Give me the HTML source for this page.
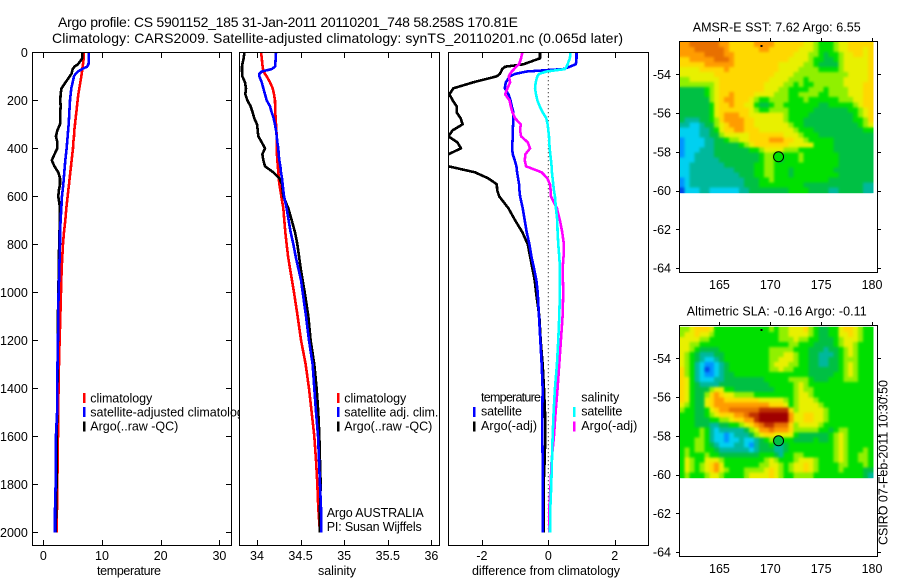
<!DOCTYPE html>
<html lang="en">
<head>
<meta charset="utf-8">
<title>Argo profile 5901152_185</title>
<style>
html,body{margin:0;padding:0;background:#fff;}
svg{display:block;}
text{font-family:"Liberation Sans",Arial,sans-serif;font-size:12.5px;fill:#000;}
.title{font-size:14px;}
.frame{fill:none;stroke:#000;stroke-width:1;shape-rendering:crispEdges;}
</style>
</head>
<body>
<svg id="chart" xmlns="http://www.w3.org/2000/svg" width="900" height="580" viewBox="0 0 900 580">
<defs>
<clipPath id="clip-t"><rect x="32" y="52" width="200" height="494"/></clipPath>
<clipPath id="clip-s"><rect x="239" y="52" width="201" height="494"/></clipPath>
<clipPath id="clip-d"><rect x="448" y="52" width="201" height="494"/></clipPath>
<filter id="smooth" x="0" y="0" width="1" height="1" color-interpolation-filters="sRGB"><feGaussianBlur stdDeviation="1.2"/></filter>
</defs>
<rect x="0" y="0" width="900" height="580" fill="#fff"/>
<text class="title" x="58" y="27" textLength="460" lengthAdjust="spacing">Argo profile: CS 5901152_185 31-Jan-2011 20110201_748 58.258S 170.81E</text>
<text class="title" x="52" y="43" textLength="571" lengthAdjust="spacing">Climatology: CARS2009. Satellite-adjusted climatology: synTS_20110201.nc (0.065d later)</text>

<g id="temperature-panel">
<g id="p1-marks" clip-path="url(#clip-t)"></g>
<g id="p1-ticks"></g>
<rect class="frame" x="32.5" y="52.5" width="199" height="493"/>
<text x="129" y="575" text-anchor="middle" textLength="64" lengthAdjust="spacing">temperature</text>
<g>
<rect x="83" y="393" width="2.5" height="10" fill="#f00"/>
<text x="90.3" y="402.3" textLength="62" lengthAdjust="spacing">climatology</text>
<rect x="83" y="407" width="2.5" height="10" fill="#00f"/>
<text x="90.3" y="416.3">satellite-adjusted climatology</text>
<rect x="83" y="421.5" width="2.5" height="10" fill="#000"/>
<text x="90.3" y="430.3" textLength="88" lengthAdjust="spacing">Argo(..raw -QC)</text>
</g>
</g>

<g id="salinity-panel">
<rect x="239" y="52" width="201" height="494" fill="#fff"/>
<g id="p2-marks" clip-path="url(#clip-s)"></g>
<g id="p2-ticks"></g>
<rect class="frame" x="239.5" y="52.5" width="200" height="493"/>
<text x="337" y="575" text-anchor="middle" textLength="38" lengthAdjust="spacing">salinity</text>
<g>
<rect x="337" y="393" width="2.5" height="10" fill="#f00"/>
<text x="344.3" y="402.3" textLength="62" lengthAdjust="spacing">climatology</text>
<rect x="337" y="407" width="2.5" height="10" fill="#00f"/>
<text x="344.3" y="416.3" textLength="94" lengthAdjust="spacing">satellite adj. clim.</text>
<rect x="337" y="421.5" width="2.5" height="10" fill="#000"/>
<text x="344.3" y="430.3" textLength="88" lengthAdjust="spacing">Argo(..raw -QC)</text>
</g>
<text x="326.7" y="517" textLength="97" lengthAdjust="spacing">Argo AUSTRALIA</text>
<text x="326.7" y="531" textLength="95" lengthAdjust="spacing">PI: Susan Wijffels</text>
</g>

<g id="difference-panel">
<rect x="448" y="52" width="201" height="494" fill="#fff"/>
<g id="p3-marks" clip-path="url(#clip-d)"></g>
<g id="p3-ticks"></g>
<rect class="frame" x="448.5" y="52.5" width="200" height="493"/>
<text x="546" y="575" text-anchor="middle" textLength="148" lengthAdjust="spacing">difference from climatology</text>
<g>
<text x="481" y="401.7" textLength="60" lengthAdjust="spacing">temperature</text>
<rect x="473" y="407" width="2.5" height="10" fill="#00f"/>
<text x="481" y="415.7" textLength="41" lengthAdjust="spacing">satellite</text>
<rect x="473" y="421.5" width="2.5" height="10" fill="#000"/>
<text x="481" y="430" textLength="56" lengthAdjust="spacing">Argo(-adj)</text>
<text x="581.3" y="401.7" textLength="38" lengthAdjust="spacing">salinity</text>
<rect x="573" y="407" width="2.5" height="10" fill="#0ff"/>
<text x="581.3" y="415.7" textLength="41" lengthAdjust="spacing">satellite</text>
<rect x="573" y="421.5" width="2.5" height="10" fill="#f0f"/>
<text x="581.3" y="430" textLength="56" lengthAdjust="spacing">Argo(-adj)</text>
</g>
</g>

<g id="sst-map">
<text x="692.7" y="31.7" textLength="168" lengthAdjust="spacing">AMSR-E SST: 7.62 Argo: 6.55</text>
<g id="m1-cells"></g>
<g id="m1-ticks"></g>
<rect class="frame" x="679.5" y="41.5" width="198" height="231"/>
</g>

<g id="sla-map">
<text x="686.7" y="315.7" textLength="180" lengthAdjust="spacing">Altimetric SLA: -0.16 Argo: -0.11</text>
<g id="m2-cells"></g>
<g id="m2-ticks"></g>
<rect class="frame" x="679.5" y="325.5" width="198" height="231"/>
</g>

<text transform="translate(887.5 545) rotate(-90)" textLength="165" lengthAdjust="spacing">CSIRO 07-Feb-2011 10:30:50</text>
</svg>

<script>
// ---- profile data ----
const depths = [0,25,50,60,70,80,90,100,
125,150,175,200,225,250,275,300,325,350,
375,400,425,450,475,500,525,550,575,600,
650,700,750,800,850,900,950,1000,
1100,1200,1300,1400,1500,1600,1700,1800,1900,2000];

const tempClim = [6.93,6.88,6.76,6.7,6.65,6.59,6.53,6.48,
6.31,6.14,5.97,5.85,5.74,5.63,5.51,5.4,5.28,5.23,
5.11,5.06,4.94,4.83,4.72,4.6,4.49,4.38,4.26,4.15,
3.92,3.75,3.52,3.35,3.24,3.13,3.07,3.01,
2.9,2.78,2.67,2.61,2.5,2.5,2.44,2.39,2.33,2.27];
const tempSat = [7.78,7.75,7.7,7.45,6.6,5.9,5.5,5.23,
5.0,4.77,4.66,4.55,4.49,4.43,4.38,4.32,4.23,4.15,
4.06,3.98,3.86,3.75,3.66,3.58,3.49,3.41,3.3,3.18,
3.07,2.95,2.84,2.84,2.78,2.73,2.68,2.6,
2.55,2.5,2.42,2.38,2.35,2.15,2.15,2.1,2.0,2.0];
const tempArgo = [6.65,6.65,5.9,5.3,5.0,4.9,4.8,4.5,
3.8,3.1,2.95,2.9,2.95,2.9,2.9,2.85,2.4,2.15,
2.4,2.4,1.9,1.45,1.9,2.55,2.85,2.85,2.65,2.55,
2.85,2.85,2.75,2.75,2.6,2.6,2.6,2.55,
2.5,2.5,2.45,2.4,2.35,2.3,2.27,2.25,2.2,2.1];

const salClim = [34.046,34.055,34.061,34.065,34.069,34.073,34.092,34.111,
34.149,34.18,34.195,34.206,34.208,34.21,34.214,34.218,34.222,34.226,
34.226,34.226,34.229,34.233,34.239,34.245,34.25,34.256,34.268,34.279,
34.302,34.313,34.325,34.34,34.356,34.378,34.401,34.424,
34.466,34.505,34.558,34.596,34.627,34.657,34.677,34.692,34.703,34.722];
const salSat = [34.218,34.214,34.21,34.206,34.168,34.054,34.027,34.027,
34.054,34.073,34.092,34.111,34.149,34.168,34.191,34.206,34.218,34.226,
34.233,34.245,34.248,34.256,34.268,34.275,34.287,34.294,34.302,34.31,
34.34,34.363,34.386,34.417,34.443,34.474,34.505,34.524,
34.562,34.596,34.638,34.657,34.677,34.7,34.711,34.722,34.734,34.738];
const salArgo = [33.855,33.847,33.832,33.828,33.828,33.828,33.832,33.832,
33.862,33.874,33.866,33.889,33.927,33.95,33.969,34.0,34.008,34.015,
34.054,34.092,34.061,34.073,34.092,34.187,34.256,34.287,34.294,34.302,
34.359,34.398,34.436,34.463,34.482,34.501,34.524,34.547,
34.589,34.615,34.657,34.684,34.703,34.715,34.722,34.73,34.722,34.722];

const diffTempSat = [0.85,0.85,0.83,0.65,0.45,-0.65,-1.0,-1.15,
-1.28,-1.31,-1.2,-1.14,-1.1,-1.05,-1.06,-1.06,-1.07,-1.07,
-1.08,-1.09,-1.07,-1.01,-0.96,-0.94,-0.91,-0.88,-0.87,-0.85,
-0.77,-0.71,-0.65,-0.57,-0.51,-0.43,-0.36,-0.32,
-0.28,-0.24,-0.2,-0.17,-0.18,-0.18,-0.17,-0.17,-0.17,-0.17];
const diffTempArgo = [-0.25,-0.25,-0.75,-1.3,-1.39,-1.42,-1.46,-1.55,
-2.26,-2.86,-2.98,-2.88,-2.76,-2.76,-2.64,-2.58,-2.88,-3.01,
-2.74,-2.63,-3.01,-3.2,-3.01,-2.21,-1.81,-1.55,-1.54,-1.48,
-1.2,-1.0,-0.78,-0.62,-0.55,-0.48,-0.41,-0.37,
-0.27,-0.23,-0.17,-0.13,-0.1,-0.09,-0.11,-0.14,-0.14,-0.14];
const diffSalSat = [0.67,0.65,0.58,0.55,0.5,-0.05,-0.28,-0.33,
-0.38,-0.40,-0.37,-0.33,-0.26,-0.17,-0.06,-0.02,0,0.02,
0.03,0.04,0.06,0.08,0.1,0.11,0.13,0.15,0.17,0.2,
0.23,0.27,0.28,0.3,0.33,0.35,0.35,0.35,
0.33,0.3,0.26,0.2,0.16,0.13,0.11,0.09,0.06,0.05];
const diffSalArgo = [-0.78,-0.82,-0.88,-0.97,-1.03,-1.1,-1.15,-1.19,
-1.15,-1.23,-1.3,-1.17,-1.13,-1.08,-1.0,-0.83,-0.85,-0.82,
-0.62,-0.55,-0.69,-0.71,-0.67,-0.2,-0.03,0.05,0.07,0.08,
0.26,0.35,0.42,0.47,0.46,0.43,0.44,0.45,
0.43,0.38,0.33,0.28,0.22,0.17,0.1,0.07,0.03,0.03];

// ---- tick labels ----
const depthTicks = [0,200,400,600,800,1000,1200,1400,1600,1800,2000];
const tempTicks = [0,10,20,30];
const salTicks = [34,34.5,35,35.5,36];
const diffTicks = [-2,0,2];
const lonTicks = [165,170,175,180];
const latTicks = [-54,-56,-58,-60,-62,-64];

// ---- map markers ----
const argoLon = [170.81];
const argoLat = [-58.258];
const argoSst = [4.6];
const argoSla = [3.6];
const islandLon = [169.15];
const islandLat = [-52.55];

// ---- map colour levels (low to high) ----
const levelColors = ['#0048e8','#0094ff','#00d0f0','#00b89c','#00c044','#00e000','#90f000','#e8f000','#ffd800','#ff9c00','#e87000','#c03000','#a00000'];

// ---- gridded fields: 39 columns by 30 rows, north to south ----
const sstGrid = [
[9,9,10,10,10,10,10,10,9,9,8,8,8,8,8,9,9,9,9,8,8,8,8,8,8,7,7,6,5,5,5,6,7,7,8,8,8,8,8],
[9,9,9,10,10,10,10,10,10,9,8,8,8,8,8,8,9,9,8,8,8,8,8,8,7,7,7,6,5,5,5,6,7,7,8,8,8,7,8],
[9,9,9,9,9,10,10,10,10,9,9,8,8,8,8,8,8,8,8,8,8,8,8,7,7,7,6,6,5,4,5,5,6,7,7,8,8,7,8],
[8,8,9,9,9,9,9,10,10,10,9,8,8,8,8,8,8,8,8,8,8,8,7,7,7,7,6,5,5,4,4,5,6,7,7,7,7,7,8],
[8,8,8,8,8,9,9,9,9,9,9,8,8,8,8,8,8,8,8,8,7,7,7,7,7,6,6,5,4,4,4,4,6,7,7,7,7,7,8],
[7,7,7,7,8,8,8,8,8,9,8,8,8,8,8,8,8,8,8,8,7,7,7,7,6,6,6,6,5,5,5,5,6,7,7,7,7,7,8],
[7,7,7,7,7,7,7,8,8,8,8,8,8,8,8,8,8,8,8,7,7,7,7,6,6,6,6,6,6,6,6,6,6,6,7,7,7,7,8],
[6,6,7,7,7,7,7,7,8,8,8,8,8,8,8,8,8,8,7,7,7,7,6,6,6,5,6,6,6,6,6,6,6,7,7,7,7,7,8],
[6,6,6,6,6,6,6,7,8,8,8,8,8,8,8,8,8,7,7,7,7,6,6,5,6,5,5,6,6,6,6,6,6,7,7,7,7,8,8],
[4,4,4,4,4,5,6,7,8,8,8,8,8,8,8,8,8,7,7,7,6,6,5,5,5,5,6,6,6,5,6,6,6,6,7,7,7,8,8],
[4,4,4,4,4,5,6,7,8,8,9,8,8,8,8,7,7,7,7,6,6,6,5,5,6,6,6,6,5,5,6,6,6,6,7,7,7,8,8],
[4,4,4,4,4,4,6,7,8,9,9,8,8,8,7,6,5,5,6,6,6,6,5,5,5,6,5,5,5,5,5,5,6,6,6,7,7,8,8],
[4,4,4,4,4,4,5,7,8,8,9,8,8,7,7,5,4,4,5,6,6,5,5,5,5,5,5,5,4,4,5,5,5,5,5,6,7,8,8],
[4,4,4,4,4,4,5,7,8,8,8,8,8,8,7,6,5,5,6,6,6,6,5,5,5,5,5,4,4,4,4,4,4,4,5,5,6,7,8],
[4,4,4,4,4,4,5,7,8,9,9,9,8,8,7,7,7,7,7,7,7,6,5,5,5,5,4,4,4,4,4,4,4,4,4,5,6,7,8],
[4,3,3,3,4,4,5,6,8,9,9,9,9,8,8,7,7,7,7,7,7,6,5,5,5,4,4,4,4,4,4,4,4,4,4,5,5,6,8],
[3,3,2,2,3,4,4,6,7,8,9,9,9,8,8,7,7,7,7,7,7,7,6,5,5,4,4,4,4,4,4,4,4,4,4,4,5,6,7],
[2,2,2,2,3,3,4,5,7,8,8,9,9,8,8,8,7,7,7,7,7,7,7,6,5,5,5,4,4,4,4,4,4,4,4,4,4,5,5],
[2,2,2,2,3,3,4,4,6,7,7,7,7,7,8,8,8,8,8,8,8,7,7,7,6,5,5,5,4,4,4,4,4,4,4,4,4,4,4],
[1,2,2,2,2,3,3,4,4,5,6,6,7,7,8,8,8,8,9,9,9,8,8,7,7,6,5,5,5,5,5,4,4,4,4,4,4,4,4],
[1,2,2,2,2,3,3,4,4,4,4,4,5,6,7,8,8,8,8,8,8,8,7,7,7,7,7,5,5,5,5,4,4,4,4,4,4,4,4],
[1,2,2,2,3,3,3,4,4,4,4,4,4,4,5,5,6,7,7,7,7,6,6,6,5,5,5,5,5,5,5,4,4,4,4,4,4,4,4],
[1,2,2,3,3,3,3,4,4,4,4,4,4,4,4,4,5,6,6,5,4,5,5,5,6,5,5,5,5,5,5,5,4,4,4,4,4,4,4],
[2,2,2,3,3,3,3,3,4,4,4,4,4,4,4,4,5,6,6,5,4,5,5,5,6,5,5,5,5,5,5,5,4,4,4,4,4,4,4],
[2,2,3,3,3,3,3,3,3,4,4,4,4,4,4,5,5,6,6,5,5,5,5,5,5,5,5,5,5,5,5,5,4,4,4,4,4,4,4],
[2,2,3,3,3,3,3,3,3,3,3,4,4,4,4,5,5,6,6,5,5,5,4,5,5,5,5,5,5,5,5,4,4,4,4,4,4,4,4],
[2,2,3,3,3,3,3,3,3,3,3,3,4,4,4,5,5,6,6,5,5,5,4,5,5,5,5,5,5,5,5,5,4,4,4,4,4,4,4],
[1,2,3,3,3,3,3,3,3,3,3,3,3,4,4,4,5,5,6,5,5,5,5,5,5,5,5,5,5,5,4,4,4,4,4,4,4,4,4],
[1,2,3,3,3,3,3,3,3,3,3,3,3,4,4,4,5,5,5,5,5,5,5,5,5,4,4,4,4,4,4,4,4,4,4,4,4,3,3],
[0,2,2,2,3,3,2,2,2,2,2,2,3,3,4,4,4,4,4,4,4,4,5,5,5,5,4,4,4,4,3,3,4,4,4,4,4,3,3]
];
const slaGrid = [
[6,6,7,8,8,8,7,5,5,5,5,5,5,5,5,5,5,5,6,5,6,6,7,7,7,8,6,5,4,4,5,5,7,8,8,7,6,5,5],
[6,7,7,8,7,7,6,5,5,5,5,5,5,5,5,5,5,5,5,5,6,6,7,7,7,7,6,5,4,4,5,5,7,7,8,7,6,5,5],
[7,7,7,7,6,6,5,5,5,5,5,5,5,5,5,5,5,5,5,5,6,6,6,7,6,6,5,5,4,4,4,5,6,7,7,7,6,5,5],
[7,7,6,6,5,5,5,5,5,5,5,5,5,5,5,5,5,5,5,5,5,5,6,6,5,5,5,4,4,4,4,5,6,7,7,6,5,5,5],
[7,7,6,5,4,4,4,4,5,5,5,5,5,5,5,5,5,5,6,6,6,6,6,5,5,5,4,4,4,3,4,4,5,6,7,6,5,5,5],
[7,6,5,4,3,3,3,4,4,5,5,5,5,5,5,5,5,5,6,6,6,7,7,6,5,5,4,4,3,3,3,4,5,6,7,6,5,5,5],
[7,6,5,4,3,2,2,3,4,5,5,5,5,5,5,5,5,5,6,6,7,7,7,6,5,5,4,4,3,3,4,4,5,6,6,6,5,5,5],
[7,6,5,3,2,1,1,2,3,4,5,5,5,5,5,5,5,5,6,7,7,7,6,6,5,5,4,4,3,3,4,4,5,6,7,6,5,5,5],
[8,6,5,3,2,0,1,2,3,4,5,5,5,5,5,5,5,5,6,6,7,6,6,5,5,5,4,4,4,4,4,4,5,6,7,6,5,5,5],
[8,6,5,3,2,1,1,2,3,4,4,5,5,5,5,5,5,5,5,5,5,5,5,5,5,5,4,4,4,4,4,5,5,6,7,6,5,5,5],
[8,7,5,3,2,2,2,3,3,4,4,4,4,4,4,4,4,5,5,5,5,5,6,6,6,6,5,4,4,4,5,5,5,6,6,6,5,5,5],
[8,7,5,4,3,3,3,3,4,4,4,4,4,4,4,4,4,4,5,5,5,5,5,6,7,6,5,5,5,5,5,5,5,5,5,5,5,5,5],
[8,7,5,4,4,4,6,7,7,5,5,4,4,4,4,4,4,4,4,5,5,5,5,6,7,6,6,5,5,5,5,5,5,5,5,5,5,5,5],
[8,7,5,4,4,6,8,9,8,7,7,6,6,6,6,5,5,5,5,5,5,5,5,6,7,7,6,5,5,5,5,5,5,5,5,5,5,5,5],
[8,7,5,4,4,7,8,9,9,8,8,8,8,8,8,8,7,7,7,7,7,6,5,6,7,7,7,6,5,5,5,5,5,5,5,5,5,5,5],
[7,6,5,4,4,7,8,9,9,9,9,9,9,9,9,9,9,9,8,8,8,7,5,6,7,7,7,7,6,5,5,5,5,5,5,5,5,5,5],
[6,5,5,4,4,5,7,8,9,9,10,10,10,10,10,10,11,11,11,11,11,11,8,6,7,7,7,7,7,6,5,5,5,5,5,5,5,5,5],
[5,5,5,4,4,5,6,7,8,8,8,9,9,10,11,11,12,12,12,12,12,12,9,7,7,8,8,7,7,6,5,5,5,5,5,5,5,5,5],
[5,5,5,4,4,4,5,5,6,6,7,8,8,9,9,11,12,12,12,12,12,12,9,7,7,8,8,7,7,6,5,5,5,5,5,5,5,5,5],
[5,5,5,4,4,4,3,3,4,4,5,5,6,7,8,9,10,11,11,10,10,10,8,6,7,7,7,7,6,5,5,5,5,5,5,5,5,5,5],
[5,5,5,5,6,5,3,2,3,3,3,3,3,4,6,7,9,9,10,9,9,9,8,6,6,6,6,6,5,5,4,5,6,6,5,5,5,5,5],
[5,5,5,5,6,5,3,2,2,1,2,3,3,3,4,6,7,8,8,7,7,7,7,5,4,4,4,4,4,4,5,6,7,6,5,5,5,5,5],
[5,5,5,6,6,5,3,2,2,1,2,2,3,2,2,3,4,5,6,5,5,5,5,4,4,4,4,5,4,4,5,6,7,6,5,5,5,5,5],
[5,5,5,6,6,5,4,3,2,2,2,3,3,2,1,3,4,4,5,3,3,4,5,5,5,5,5,5,5,5,5,6,7,6,5,5,5,5,5],
[5,6,5,6,6,5,5,4,3,3,3,3,3,3,2,3,4,4,4,3,3,4,5,5,5,5,5,5,5,5,5,6,7,6,5,5,5,6,5],
[5,6,5,5,5,6,5,5,4,4,4,4,4,4,4,4,5,5,5,4,3,5,5,6,6,5,5,5,5,5,5,6,7,6,5,5,6,6,5],
[5,7,6,5,5,7,7,7,6,5,5,5,5,5,5,5,5,6,7,6,5,5,5,6,7,7,7,6,5,5,5,6,7,6,5,5,6,6,5],
[5,7,6,5,6,7,8,9,7,5,5,5,5,5,5,5,6,6,7,7,6,5,6,7,7,8,7,6,5,5,5,5,6,6,5,5,5,6,5],
[5,7,6,5,6,7,8,9,7,6,5,5,5,6,6,6,6,7,8,7,6,5,6,7,7,8,7,6,5,5,5,5,6,5,5,5,5,4,4],
[5,6,5,5,5,6,7,7,6,5,5,5,5,6,7,7,7,7,8,7,6,5,5,6,6,6,6,5,5,5,5,5,5,5,5,5,5,4,3]
];
const gridLonStart = [161.07];
const gridLonStep = [0.488];
const sstLatStart = [-52.33];
const slaLatStart = [-52.38];
const gridLatStep = [0.2594];

// ---- axis functions ----
const yDepth = d => 52.3 + d * 0.24;
const xTemp = v => 43.3 + v * 5.87;
const xSal = v => 257 + (v - 34) * 87.2;
const xDiff = v => 548.3 + v * 33.2;
const xLon = l => 770.3 + (l - 170) * 10.17;
const yLatSst = lat => 74.3 + (-54 - lat) * 19.37;
const yLatSla = lat => 358.3 + (-54 - lat) * 19.37;

const NS = 'http://www.w3.org/2000/svg';
function mk(tag, attrs, parent) {
  const el = document.createElementNS(NS, tag);
  for (const k in attrs) el.setAttribute(k, attrs[k]);
  parent.appendChild(el);
  return el;
}
function levelColor(v) {
  const t = Math.max(0, Math.min(levelColors.length - 1, Math.round(v)));
  return levelColors[t];
}
function drawProfile(parent, values, xFn, color, name) {
  let d = '';
  values.forEach((v, i) => { d += (i ? 'L' : 'M') + xFn(v).toFixed(2) + ' ' + yDepth(depths[i]).toFixed(2); });
  const p = mk('path', {d: d, fill: 'none', stroke: color, 'stroke-width': 2.6, 'stroke-linejoin': 'round', 'shape-rendering': 'crispEdges'}, parent);
  
  
}
function tickLine(parent, x1, y1, x2, y2, name) {
  const t = mk('line', {x1: x1, y1: y1, x2: x2, y2: y2, stroke: '#000', 'stroke-width': 1, 'shape-rendering': 'crispEdges'}, parent);
  
  
}
function tickText(parent, x, y, anchor, label, name) {
  const t = mk('text', {x: x, y: y, 'text-anchor': anchor}, parent);
  t.textContent = label;
  
  
}
function xAxisTicks(parent, ticks, xFn, labelFn, name) {
  ticks.forEach(v => {
    const x = Math.round(xFn(v)) + 0.5;
    tickLine(parent, x, 52.5, x, 58, name + '-tick-top');
    tickLine(parent, x, 540, x, 545.5, name + '-tick-bottom');
    tickText(parent, xFn(v), 560, 'middle', labelFn(v), name + '-tick-label');
  });
}
function drawMap(cellsId, ticksId, grid, latStart, yLat, top, bottom, argoVal, prefix) {
  const holder = document.getElementById(cellsId);
  const ticks = document.getElementById(ticksId);
  const cells = mk('g', {id: prefix + '-base'}, holder);
  grid.forEach((row, r) => {
    row.forEach((v, c) => {
      const lon = gridLonStart[0] + c * gridLonStep[0];
      const lat = latStart - r * gridLatStep[0];
      const x0 = xLon(lon), x1 = xLon(lon + gridLonStep[0]);
      const y0 = yLat(lat), y1 = yLat(lat - gridLatStep[0]);
      const cell = mk('rect', {x: x0.toFixed(2), y: y0.toFixed(2), width: (x1 - x0 + 0.4).toFixed(2), height: (y1 - y0 + 0.4).toFixed(2), fill: levelColor(v), 'shape-rendering': 'crispEdges'}, cells);
      
      
    });
  });
  const smooth = mk('use', {href: '#' + prefix + '-base', filter: 'url(#smooth)'}, holder);
  
  
  const land = mk('rect', {x: xLon(islandLon[0]) - 1, y: yLat(islandLat[0]) - 1, width: 2, height: 2, fill: '#000', 'shape-rendering': 'crispEdges'}, holder);
  
  
  const marker = mk('circle', {cx: xLon(argoLon[0]), cy: yLat(argoLat[0]), r: 5, fill: levelColor(argoVal), stroke: '#000', 'stroke-width': 1}, holder);
  
  
  lonTicks.forEach(l => {
    const x = Math.round(xLon(l)) + 0.5;
    tickLine(ticks, x, top - 3.5, x, top, prefix + '-lon-tick');
    tickText(ticks, xLon(l), bottom + 16.5, 'middle', String(l), prefix + '-lon-label');
  });
  latTicks.forEach(lat => {
    const y = Math.round(yLat(lat)) + 0.5;
    tickLine(ticks, 676, y, 679.5, y, prefix + '-lat-tick-left');
    tickLine(ticks, 877.5, y, 881, y, prefix + '-lat-tick-right');
    tickText(ticks, 671, yLat(lat) + 4.5, 'end', String(lat), prefix + '-lat-label');
  });
}

// ---- temperature panel ----
const p1 = document.getElementById('p1-marks');
drawProfile(p1, tempClim, xTemp, '#f00', 'temperature-climatology-line');
drawProfile(p1, tempArgo, xTemp, '#000', 'temperature-argo-line');
drawProfile(p1, tempSat, xTemp, '#00f', 'temperature-satellite-line');
const t1 = document.getElementById('p1-ticks');
xAxisTicks(t1, tempTicks, xTemp, v => String(v), 'temperature-axis');
depthTicks.forEach(d => {
  const y = Math.round(yDepth(d)) + 0.5;
  tickLine(t1, 32.5, y, 38, y, 'depth-tick-left');
  tickLine(t1, 226, y, 231.5, y, 'depth-tick-right');
  tickText(t1, 27.8, yDepth(d) + 4.5, 'end', String(d), 'depth-tick-label');
});

// ---- salinity panel ----
const p2 = document.getElementById('p2-marks');
drawProfile(p2, salClim, xSal, '#f00', 'salinity-climatology-line');
drawProfile(p2, salArgo, xSal, '#000', 'salinity-argo-line');
drawProfile(p2, salSat, xSal, '#00f', 'salinity-satellite-line');
xAxisTicks(document.getElementById('p2-ticks'), salTicks, xSal, v => String(v), 'salinity-axis');

// ---- difference panel ----
const p3 = document.getElementById('p3-marks');
const zeroLine = mk('line', {x1: xDiff(0), y1: yDepth(0), x2: xDiff(0), y2: yDepth(depths[depths.length - 1]), stroke: '#000', 'stroke-width': 1, 'stroke-dasharray': '1 3'}, p3);


drawProfile(p3, diffTempArgo, xDiff, '#000', 'difference-temperature-argo-line');
drawProfile(p3, diffTempSat, xDiff, '#00f', 'difference-temperature-satellite-line');
drawProfile(p3, diffSalArgo, xDiff, '#f0f', 'difference-salinity-argo-line');
drawProfile(p3, diffSalSat, xDiff, '#0ff', 'difference-salinity-satellite-line');
xAxisTicks(document.getElementById('p3-ticks'), diffTicks, xDiff, v => String(v), 'difference-axis');

// ---- maps ----
drawMap('m1-cells', 'm1-ticks', sstGrid, sstLatStart[0], yLatSst, 41.5, 272.5, argoSst[0], 'sst-map');
drawMap('m2-cells', 'm2-ticks', slaGrid, slaLatStart[0], yLatSla, 325.5, 556.5, argoSla[0], 'sla-map');
</script>
</body>
</html>
